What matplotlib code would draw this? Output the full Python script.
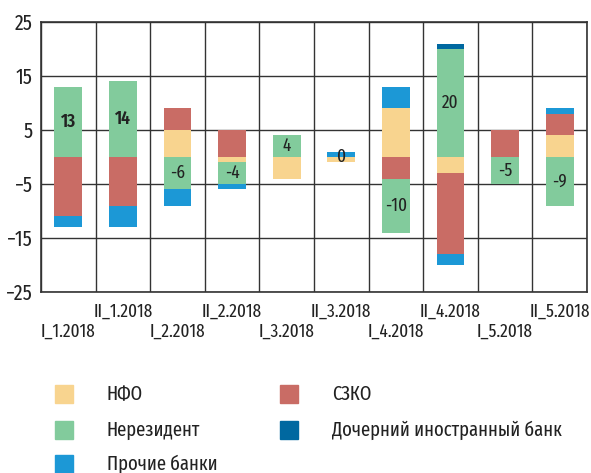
import numpy as np
import matplotlib
matplotlib.use('Agg')
import matplotlib.pyplot as plt
from matplotlib.patches import Rectangle

plt.rcParams['font.family'] = ['Fira Sans Extra Condensed', 'DejaVu Sans']

cats = ['I_1.2018', 'II_1.2018', 'I_2.2018', 'II_2.2018', 'I_3.2018',
        'II_3.2018', 'I_4.2018', 'II_4.2018', 'I_5.2018', 'II_5.2018']
nfo = [0, 0, 5, -1, -4, -1, 9, -3, 0, 4]
szko = [-11, -9, 4, 5, 0, 0, -4, -15, 5, 4]
nonres = [13, 14, -6, -4, 4, 0, -10, 20, -5, -9]
other = [-2, -4, -3, -1, 0, 1, 4, -2, 0, 1]
daughter = [0, 0, 0, 0, 0, 0, 0, 1, 0, 0]

series = [('НФО', nfo, '#F8D48F'),
          ('СЗКО', szko, '#C96C65'),
          ('Нерезидент', nonres, '#82CB9C'),
          ('Прочие банки', other, '#1C98D6'),
          ('Дочерний иностранный банк', daughter, '#0068A0')]

W, H = 591, 473
fig = plt.figure(figsize=(W / 100, H / 100), dpi=100)
ax = fig.add_axes([41 / W, 1 - 292 / H, 546 / W, 270 / H])

x = np.arange(len(cats))
pos = np.zeros(len(cats))
neg = np.zeros(len(cats))
green_mid = np.zeros(len(cats))
for name, vals, color in series:
    v = np.array(vals, dtype=float)
    bottom = np.where(v >= 0, pos, neg)
    ax.bar(x, v, 0.51, bottom=bottom, color=color, zorder=3)
    if name == 'Нерезидент':
        green_mid = bottom + v / 2
    pos = pos + np.where(v > 0, v, 0)
    neg = neg + np.where(v < 0, v, 0)

for i, v in enumerate(nonres):
    ax.text(x[i], green_mid[i], str(v), ha='center', va='center', fontsize=13.5,
            color='#222222', fontweight='semibold' if i < 2 else 'normal', zorder=4)

ax.set_xlim(-0.5, len(cats) - 0.5)
ax.set_ylim(-25, 25)
ax.set_yticks([-25, -15, -5, 5, 15, 25])
ax.set_xticks([])
ax.set_xticks(np.arange(-0.5, len(cats), 1), minor=True)
ax.tick_params(which='both', length=0, labelsize=15.5, pad=6, labelcolor='#222222')
ax.grid(True, which='minor', axis='x', color='#333333', lw=1)
ax.grid(True, which='major', axis='y', color='#333333', lw=1)
ax.set_axisbelow(True)
for s in ax.spines.values():
    s.set_color('#333333')
    s.set_linewidth(1.2)

# staggered category labels
for i, lab in enumerate(cats):
    off = -20 if i % 2 else -40
    ax.annotate(lab, xy=(x[i], 0), xycoords=('data', 'axes fraction'),
                xytext=(0, off), textcoords='offset pixels',
                ha='center', va='center', fontsize=13.5, color='#222222',
                annotation_clip=False)

# legend
leg_pos = [(55, 394), (55, 430), (55, 464), (280, 394), (280, 430)]
order = [0, 2, 3, 1, 4]
for (px, py), k in zip(leg_pos, order):
    name, vals, color = series[k]
    fig.add_artist(Rectangle((px / W, 1 - (py + 9) / H), 18 / W, 18 / H,
                             transform=fig.transFigure, color=color))
    fig.text((px + 52) / W, 1 - py / H, name, ha='left', va='center',
             fontsize=14.5, color='#222222')

fig.savefig('out.png', dpi=100)
